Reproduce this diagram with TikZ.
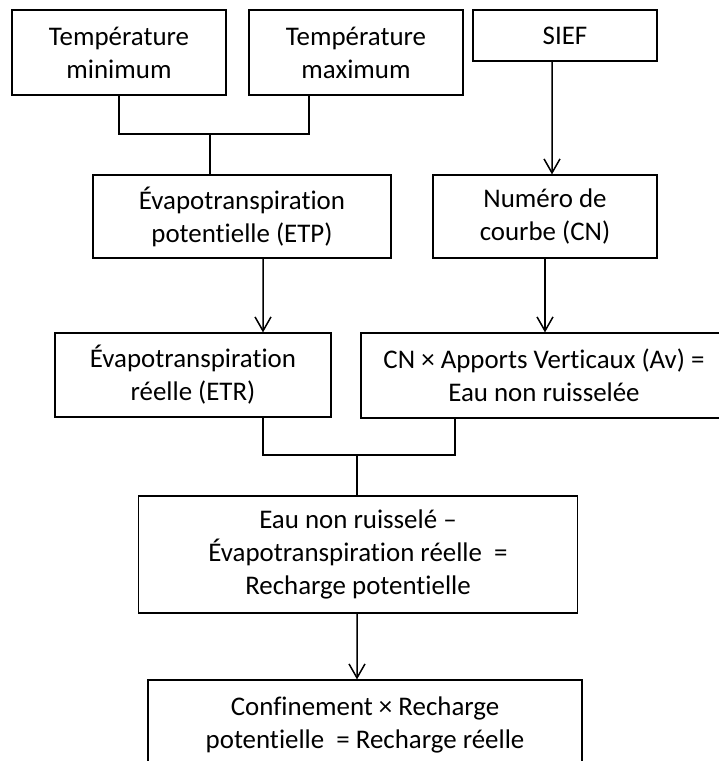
\documentclass[tikz,border=0pt]{standalone}
\usepackage{fontspec}
\setmainfont{Carlito}[Ligatures=CommonOff]
\usetikzlibrary{arrows.meta}

\begin{document}
\begin{tikzpicture}[yscale=-1,x=1bp,y=1bp,
    boite/.style={draw,line width=1.2bp,align=center,inner sep=0pt,
      font=\fontsize{27}{33}\selectfont},
    boitegras/.style={boite,line width=2.4bp},
    lien/.style={line width=1.5bp},
    fleche/.style={lien,-{Straight Barb[length=14bp,width=16bp,line width=1.5bp]}}]

  % --- Cadre de l'image ---
  \clip (0,0) rectangle (719,761);

  % ======================================================================
  % Donnees d'entree
  % ======================================================================
  \node[boitegras,minimum width=214bp,minimum height=85bp] (tmin) at (119,52.5) {Température\\minimum};
  \node[boitegras,minimum width=214bp,minimum height=85bp] (tmax) at (356,52.5) {Température\\maximum};
  \node[boite,minimum width=184bp,minimum height=51bp] (sief) at (565,35.5) {SIEF};

  % --- Etapes intermediaires ---
  \node[boite,minimum width=298bp,minimum height=83bp] (etp) at (242,216.5) {Évapotranspiration\\potentielle (ETP)};
  \node[boite,minimum width=224bp,minimum height=83bp] (cn) at (545,216.5) {Numéro de\\courbe (CN)};

  \node[boite,minimum width=276bp,minimum height=84bp] (etr) at (193,375) {Évapotranspiration\\réelle (ETR)};
  \node[boite,minimum width=366bp,minimum height=85bp] (cnav) at (544,375.5) {CN × Apports Verticaux (Av) =\\Eau non ruisselée};

  % --- Bilan ---
  \node[boite,minimum width=439bp,minimum height=117bp] (eau) at (358,554.5)
    {Eau non ruisselé –\\Évapotranspiration réelle \ =\\Recharge potentielle};
  \node[boite,minimum width=434bp,minimum height=90bp] (recharge) at (365,725)
    {Confinement × Recharge\\potentielle \ = Recharge réelle};

  % ======================================================================
  % Liaisons
  % ======================================================================
  \coordinate (jhaut) at (210,134);
  \draw[lien] (tmin.south) |- (jhaut);
  \draw[lien] ([xshift=-47bp]tmax.south) |- (jhaut);
  \draw[lien] (jhaut) -- (jhaut |- etp.north);

  \draw[fleche] ([xshift=-13bp]sief.south) -- ([xshift=7bp]cn.north);
  \draw[fleche] ([xshift=21bp]etp.south) -- ([xshift=70bp]etr.north);
  \draw[fleche] (cn.south) -- (cn.south |- cnav.north);

  \coordinate (jbas) at (357,455);
  \draw[lien] ([xshift=70bp]etr.south) |- (jbas);
  \draw[lien] ([xshift=-89bp]cnav.south) |- (jbas);
  \draw[lien] (jbas) -- (jbas |- eau.north);

  \draw[fleche] ([xshift=-1bp]eau.south) -- ([xshift=-8bp]recharge.north);

\end{tikzpicture}
\end{document}
